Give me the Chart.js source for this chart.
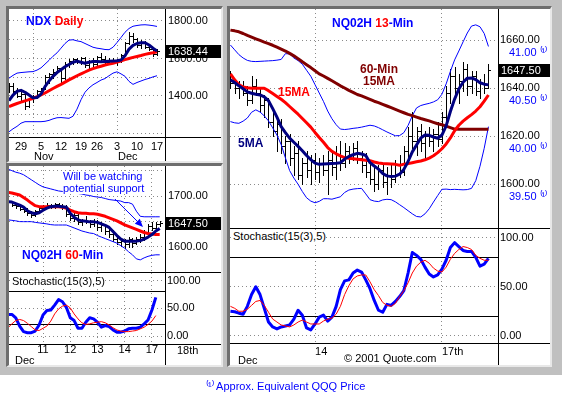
<!DOCTYPE html>
<html>
<head>
<meta charset="utf-8">
<title>NDX Daily / NQ02H</title>
<script src="https://cdn.jsdelivr.net/npm/chart.js@4.4.1/dist/chart.umd.min.js"></script>
<style>
html,body{margin:0;padding:0;width:562px;height:395px;background:#fff;overflow:hidden;font-family:"Liberation Sans",Arial,Helvetica,sans-serif;}
#frame{position:absolute;left:0;top:0;width:562px;height:375px;background:#c0c0c0;}
.panel{position:absolute;background:#fff;border-style:solid;border-width:3px 2px 2px 3px;border-color:#6e6e6e #e8e8e8 #e8e8e8 #6e6e6e;}
canvas{position:absolute;display:block;}
.ln{position:absolute;background:#000;}
.t{position:absolute;white-space:nowrap;font-size:11px;line-height:12px;color:#000;}
.b{font-weight:bold;font-size:12px;line-height:13px;}
.bg{background:#fff;}
.blue{color:#0000ff}.red{color:#ff0000}.dred{color:#800000}.navy{color:#000080}
</style>
</head>
<body>
<div id="frame"></div>
<div class="panel" style="left:6px;top:6px;width:212px;height:152px"></div>
<div class="panel" style="left:6px;top:163px;width:212px;height:199px"></div>
<div class="panel" style="left:227px;top:6px;width:320px;height:356px"></div>

<canvas id="cA" width="212" height="152" style="left:9px;top:9px;width:212px;height:152px"></canvas>
<canvas id="cB1" width="212" height="106" style="left:9px;top:166px;width:212px;height:106px"></canvas>
<canvas id="cB2" width="212" height="92" style="left:9px;top:273px;width:212px;height:92px"></canvas>
<canvas id="cC1" width="320" height="219" style="left:230px;top:9px;width:320px;height:219px"></canvas>
<canvas id="cC2" width="320" height="136" style="left:230px;top:229px;width:320px;height:136px"></canvas>

<div class="ln" style="left:165px;top:9px;width:1px;height:152px"></div>
<div class="ln" style="left:9px;top:137px;width:212px;height:1px"></div>
<div class="ln" style="left:165px;top:166px;width:1px;height:199px"></div>
<div class="ln" style="left:9px;top:272px;width:212px;height:1px"></div>
<div class="ln" style="left:9px;top:344px;width:212px;height:1px"></div>
<div class="ln" style="left:498px;top:9px;width:1px;height:356px"></div>
<div class="ln" style="left:230px;top:228px;width:320px;height:1px"></div>
<div class="ln" style="left:230px;top:343px;width:320px;height:1px"></div>

<div class="t b" style="left:26px;top:15px"><span class="blue">NDX</span> <span class="red">Daily</span></div>
<div class="t" style="left:34px;top:150px">Nov</div>
<div class="t" style="left:118px;top:150px">Dec</div>

<div class="t blue bg" style="left:63px;top:171px;line-height:11.5px">Will be watching<br>potential support</div>
<div class="t b" style="left:22px;top:248px;line-height:14px"><span class="blue">NQ02H</span> <span class="red">60</span><span class="blue">-Min</span></div>
<div class="t bg" style="left:12px;top:275px">Stochastic(15(3),5)</div>
<div class="t" style="left:177px;top:344px">18th</div>
<div class="t" style="left:15px;top:354px">Dec</div>

<div class="t b" style="left:332px;top:16px;line-height:14px"><span class="blue">NQ02H</span> <span class="red">13</span><span class="blue">-Min</span></div>
<div class="t b dred" style="left:349px;top:64px;width:60px;text-align:center;line-height:11.5px">60-Min<br>15MA</div>
<div class="t b red" style="left:278px;top:86px">15MA</div>
<div class="t b navy" style="left:238px;top:137px">5MA</div>
<div class="t bg" style="left:233px;top:230px">Stochastic(15(3),5)</div>
<div class="t" style="left:238px;top:354px">Dec</div>
<div class="t" style="left:344px;top:352px">© 2001 Quote.com</div>

<div class="t blue" style="left:206px;top:380px">⁽¹⁾ Approx. Equivalent QQQ Price</div>

<script>
// ---------------- NDX daily ----------------
const ndxDates = ['10/24','10/25','10/26','10/29','10/30','10/31','11/1','11/2','11/5','11/6','11/7','11/8','11/9',
  '11/12','11/13','11/14','11/15','11/16','11/19','11/20','11/21','11/23','11/26','11/27','11/28','11/29','11/30',
  '12/3','12/4','12/5','12/6','12/7','12/10','12/11','12/12','12/13','12/14','12/17'];
const ndxTickDates = ['10/29','11/5','11/12','11/19','11/26','12/3','12/10','12/17'];
const ndxTickLabels = ['29','5','12','19','26','3','10','17'];
const ndxMonthStarts = ['11/1','12/3'];
const ndxOpen  = [1440,1455,1428,1400,1410,1345,1385,1398,1425,1440,1500,1515,1530,1548,1495,1570,1585,1595,1580,1600,1565,1585,1570,1610,1598,1580,1592,1585,1590,1620,1680,1720,1705,1672,1690,1660,1650,1625];
const ndxHigh  = [1470,1470,1445,1420,1420,1390,1405,1430,1445,1510,1525,1545,1560,1550,1580,1595,1605,1600,1610,1610,1590,1600,1615,1630,1615,1600,1605,1595,1625,1690,1740,1735,1710,1700,1695,1675,1660,1648];
const ndxLow   = [1420,1420,1395,1375,1330,1340,1370,1390,1410,1435,1470,1495,1520,1470,1490,1555,1570,1575,1570,1555,1545,1560,1565,1590,1575,1570,1575,1565,1580,1615,1675,1690,1660,1655,1655,1645,1615,1620];
const ndxClose = [1455,1428,1400,1410,1345,1385,1398,1425,1440,1500,1515,1530,1548,1495,1570,1585,1595,1580,1600,1565,1585,1570,1610,1598,1580,1592,1585,1590,1620,1680,1720,1705,1672,1690,1660,1650,1625,1638.44];
const ndxMa5   = [1375,1405,1425,1430,1420,1405,1390,1392,1410,1450,1480,1505,1525,1540,1556,1568,1580,1586,1580,1575,1580,1584,1584,1583,1584,1585,1586,1588,1592,1615,1650,1670,1680,1684,1684,1672,1655,1640];
const ndxMa15  = [1343,1352,1360,1367,1374,1381,1387,1396,1406,1416,1428,1440,1451,1462,1474,1486,1497,1508,1518,1528,1538,1546,1553,1559,1565,1570,1575,1581,1587,1594,1600,1606,1611,1616,1622,1627,1631,1636];
const ndxUpper = [1495,1510,1522,1525,1527,1529,1530,1538,1550,1570,1590,1612,1630,1655,1680,1698,1700,1694,1690,1680,1670,1660,1655,1652,1648,1647,1660,1685,1712,1740,1760,1772,1776,1779,1780,1778,1775,1771];
const ndxLower = [1209,1225,1238,1255,1263,1263,1263,1263,1263,1265,1270,1278,1284,1285,1283,1281,1292,1330,1380,1420,1443,1460,1472,1485,1493,1508,1522,1529,1518,1505,1478,1462,1472,1480,1488,1494,1502,1508];
const ndxYTicks = [1200,1300,1400,1500,1600,1700,1800];
const ndxYLabels = [1400,1600,1800];

// ---------------- NQ02H 60-min ----------------
const nq60TickBars = [9,16,23,30,37];
const nq60TickLabels = ['11','12','13','14','17'];
const nq60Open  = [1686,1689,1683,1680,1675,1671,1666,1662,1670,1676,1680,1682,1679,1684,1680,1678,1664,1656,1662,1648,1652,1648,1645,1650,1638,1642,1630,1625,1615,1610,1612,1606,1615,1608,1616,1620,1628,1640,1636,1645];
const nq60High  = [1692,1691,1686,1684,1679,1676,1670,1672,1678,1683,1686,1685,1686,1687,1684,1682,1670,1667,1665,1655,1660,1652,1654,1653,1648,1645,1637,1632,1622,1618,1616,1620,1618,1620,1625,1632,1645,1648,1648,1650];
const nq60Low   = [1683,1680,1676,1672,1668,1663,1658,1660,1667,1673,1676,1677,1676,1678,1674,1660,1652,1650,1645,1642,1646,1638,1640,1633,1630,1625,1620,1612,1605,1602,1598,1600,1600,1605,1610,1614,1625,1632,1634,1640];
const nq60Close = [1689,1683,1680,1675,1671,1666,1662,1670,1676,1680,1682,1679,1684,1680,1678,1664,1656,1662,1648,1652,1648,1645,1650,1638,1642,1630,1625,1615,1610,1612,1606,1615,1608,1616,1620,1628,1640,1636,1645,1647.5];
const nq60Ma5   = [1689,1688,1685,1682,1678,1671,1667,1665,1667,1672,1676,1679,1680,1680,1679,1678,1666,1658,1653,1651,1650,1649,1649,1648,1645,1642,1638,1630,1622,1615,1611,1611,1611,1611,1612,1615,1619,1624,1631,1636];
const nq60Ma15  = [1707,1706,1704,1702,1697,1692,1686,1681,1679,1679,1679,1679,1679,1679,1678,1676,1672,1669,1667,1666,1666,1665,1665,1664,1662,1660,1657,1654,1651,1647,1643,1640,1637,1634,1631,1628,1626,1625,1624,1624];
const nq60Upper = [1753,1750,1747,1745,1742,1737,1732,1727,1722,1718,1716,1714,1712,1710,1709,1708,1707,1706,1705,1704,1702,1701,1699,1698,1697,1695,1693,1692,1691,1690,1687,1687,1684,1670,1660,1659,1659,1659,1659,1659];
const nq60Lower = [1653,1652,1651,1649.5,1649.4,1649.4,1649.4,1648,1647,1646,1645,1643.5,1642.8,1642.8,1642.8,1642.8,1640,1637,1634,1631,1629,1627,1626,1622,1619,1616,1613,1610,1607,1602,1597,1590,1584,1576,1574,1578,1581,1583,1584,1584];
const nq60StochK = [39,39,33,18,8,6,6,9,20,38,46,47,56,66,62,52,33,28,14,14,25,33,31,25,16,19,17,11,7,7,9,13,14,14,16,22,29,47,70];
const nq60StochD = [15,22,28,30,28,23,17,11,10,14,18,27,40,49,54,56,51,40,31,24,21,22,24,25,26,24,20,15,11,9,8,8,9,10,13,16,21,27,37];
const nq60YTicks = [1600,1650,1700,1750];
const nq60YLabels = [1600,1700];
const nq60ArrowFrom = [27.5, 1694];
const nq60ArrowTo = [34.7, 1639];

// ---------------- NQ02H 13-min ----------------
const nq13TickBars = [20,50];
const nq13TickLabels = ['14','17th'];
const nq13Open  = [1645,1642,1640,1641,1638,1635,1641,1638,1633,1635,1626,1622,1625,1616,1618,1611,1613,1604,1609,1606,1610,1605,1609,1606,1610,1607,1612,1609,1614,1612,1615,1611,1608,1605,1602,1600,1606,1601,1604,1602,1608,1605,1614,1620,1618,1622,1617,1620,1618,1621,1619,1628,1638,1645,1640,1643,1648,1641,1645,1639,1642,1640];
const nq13High  = [1647,1644,1643,1643,1641,1645,1644,1640,1637,1636,1630,1628,1627,1620,1621,1616,1618,1611,1614,1612,1613,1611,1612,1614,1613,1616,1618,1617,1616,1617,1618,1614,1613,1610,1607,1608,1609,1607,1608,1610,1612,1616,1624,1630,1624,1625,1622,1624,1623,1626,1630,1641,1648,1649,1646,1651,1650,1647,1647,1644,1646,1650];
const nq13Low   = [1640,1638,1636,1637,1633,1634,1637,1630,1628,1624,1620,1614,1613,1609,1608,1604,1602,1600,1603,1600,1602,1601,1604,1596,1604,1602,1606,1607,1609,1610,1609,1605,1603,1600,1597,1598,1599,1596,1599,1601,1603,1604,1611,1615,1612,1614,1610,1616,1614,1616,1617,1625,1634,1636,1634,1639,1637,1638,1637,1636,1638,1640];
const nq13Close = [1642,1640,1641,1638,1635,1641,1638,1633,1635,1626,1622,1625,1616,1618,1611,1613,1604,1609,1606,1610,1605,1609,1606,1610,1607,1612,1609,1614,1612,1615,1611,1608,1605,1602,1600,1606,1601,1604,1602,1608,1605,1614,1620,1618,1622,1617,1620,1618,1621,1619,1628,1638,1645,1640,1643,1648,1641,1645,1639,1642,1640,1647.5];
const nq13Ma5   = [1643.5,1642.4,1641,1639.8,1638.5,1637.9,1637.5,1637.2,1636.4,1634.8,1631.5,1628,1624,1621.5,1619.2,1617.5,1615.8,1614,1612,1610.3,1608.8,1608.3,1608.5,1608.6,1608.7,1608.8,1609,1610.5,1611.6,1612.3,1612.9,1612.6,1612,1609,1607.6,1606.3,1604.5,1603.5,1603.2,1603.4,1604.2,1606.2,1609.5,1613.5,1616.4,1619.3,1620.5,1620.4,1619.7,1619.2,1620.5,1624.3,1630.3,1635.5,1639.7,1642.5,1644.2,1644.3,1643.6,1642.3,1641.7,1641.4];
const nq13Ma15  = [1646,1643.5,1641.5,1640.5,1640.2,1640,1640,1640,1640,1639,1637.8,1636.6,1635.4,1634,1632.4,1630.8,1629.2,1627.4,1625.6,1623.8,1621.6,1619.5,1617.5,1615.3,1613.7,1612.7,1611.8,1611.1,1610.8,1610.6,1610.4,1610.2,1610,1609.8,1609.3,1608.9,1608.7,1608.6,1608.5,1608.3,1607.9,1608.4,1608.6,1609,1609.4,1609.7,1610.2,1610.9,1611.9,1613.2,1614.8,1616.8,1619.3,1622.3,1624.6,1626.3,1627.7,1629,1630.5,1632.3,1634.6,1637.2];
const nq13Ma60h = [1664.2,1663.9,1663.5,1662.8,1662,1661.3,1660.6,1659.9,1659.2,1658.6,1657.9,1657.1,1656.3,1655.5,1654.5,1653.5,1652.3,1651,1649.8,1648.6,1647.3,1646,1645.1,1644.1,1643.1,1642.1,1641,1640.1,1639.1,1638.3,1637.4,1636.8,1636.1,1635.4,1634.6,1634,1633.3,1632.6,1631.9,1631.2,1630.5,1629.8,1629.1,1628.6,1628,1627.4,1626.9,1626.4,1625.8,1625.2,1624.8,1624.2,1623.6,1623,1622.9,1622.9,1622.9,1622.9,1622.9,1622.9,1622.9,1622.9];
const nq13Upper = [1658,1656,1654,1652.6,1651.6,1651.2,1651.1,1651.2,1651.3,1651.4,1651.5,1651.7,1652,1654.4,1654.3,1652.6,1651.5,1650,1647.5,1645,1641.5,1638,1634.5,1630.5,1627.3,1624.8,1623,1622.8,1623,1623.3,1623.5,1623.8,1624.2,1624.6,1624.3,1623.6,1622.7,1621.8,1621,1620.2,1620.3,1621.5,1624.5,1628.5,1631.8,1632.8,1633.3,1633.7,1634.3,1635.2,1637.5,1641.8,1647,1651.8,1655.5,1659.3,1663,1665.9,1666.4,1665.6,1662.8,1657.4];
const nq13Lower = [1626.1,1625.6,1625.4,1626.3,1627.6,1630,1631,1630.1,1628.5,1626.4,1623.5,1620.5,1616.5,1611,1605.7,1602.6,1600,1597,1594.4,1593,1592.3,1592.9,1594,1594,1593.8,1594.3,1594.8,1596.6,1597.6,1598,1598.2,1598.3,1596,1593.6,1593,1592.8,1593.5,1593.75,1593.6,1592.7,1591.5,1590.3,1589,1587.7,1586.6,1586.4,1587.7,1589.8,1592.6,1595.3,1597.9,1598,1597.8,1597.9,1597.8,1597.7,1597.8,1598.3,1601.5,1607.5,1615,1624];
const nq13StochK = [25,24.5,23,22,30,42,50,42,28,14,9,7,9,10,11,17,26,21,8,6,12,19,21,15,19,30,47,56,57,64,67,65,57,48,36,26,24,32,31,35,40,46,64,85,82,78,70,63,60,62,68,77,90,95,91,87,86,86,80,71,73,79];
const nq13StochD = [30,28,25,25,27,31,35,36,31,24,17,14,11,10,9,11,14,16,14,12,12,12,15,17,18,22,30,42,51,58,61,62,62,55,47,41,34,31,30,33,40,46,54,64,71,75,77,74,69,66,65,70,78,84,88,91,90,88,82,79,77,77];
const nq13YTicks = [1600,1620,1640,1660];
const qqqTicks = [39.5,40,40.5,41];
const qqqAnchorNQ = 1654.7, qqqAnchor = 41, nqPerQqq = 40;

const stochTicks = [0,20,50,80,100];
const stochLabels = [0,50,100];
const stochLevels = [20,80];

// ---------------- helpers ----------------
const FONT = '"Liberation Sans", Arial, Helvetica, sans-serif';
Chart.defaults.font.family = FONT;
Chart.defaults.font.size = 11;
Chart.defaults.color = '#000';
const DOT = '#8a8a8a';
const CLEAR = 'rgba(0,0,0,0)';

const pts = (xs, ys) => ys.map((v, i) => ({x: xs[i], y: v}));
const ln = (xs, ys, color, w) => ({data: pts(xs, ys), borderColor: color, borderWidth: w, xAxisID: 'x', yAxisID: 'y',
  pointRadius: 0, tension: 0, fill: false, borderJoinStyle: 'round'});
const noPad = s => { s.paddingTop = 0; s.paddingBottom = 0; s.paddingLeft = 0; s.paddingRight = 0; };

function xAxis(o) {
  const all = Array.from(new Set(o.tickPos.concat(o.gridPos))).sort((a, b) => a - b);
  return {
    type: 'linear', position: 'bottom', min: o.min, max: o.max,
    afterBuildTicks: s => { s.ticks = all.map(v => ({value: v})); },
    afterFit: s => { s.height = o.height; noPad(s); },
    ticks: {display: o.show, autoSkip: false, maxRotation: 0, minRotation: 0, padding: o.pad || 0,
      align: o.align || 'center', font: {size: 11, lineHeight: 1},
      callback: v => { const k = o.tickPos.indexOf(v); return k >= 0 ? o.tickLabels[k] : ''; }},
    grid: {drawTicks: false, lineWidth: 1,
      color: c => (c.tick && o.gridPos.includes(c.tick.value)) ? DOT : CLEAR},
    border: {display: false, dash: [1, 3]}
  };
}
function yAxis(o) {
  const lv = o.levels || [];
  return {
    type: 'linear', position: 'right', min: o.min, max: o.max, weight: 1,
    afterBuildTicks: s => { s.ticks = o.ticks.map(v => ({value: v})); },
    afterFit: s => { s.width = o.width; noPad(s); },
    ticks: {autoSkip: false, padding: o.pad, color: '#000',
      callback: v => o.labels.includes(v) ? v.toFixed(2) : ''},
    grid: {drawTicks: false, lineWidth: 1,
      color: c => (c.tick && lv.includes(c.tick.value)) ? '#000' : DOT},
    border: {display: false, dash: c => (c.tick && lv.includes(c.tick.value)) ? [] : [1, 3]}
  };
}
function ohlc(xs, o, h, l, c) {
  return {id: 'ohlc', beforeDatasetsDraw(chart) {
    const {ctx, chartArea: a} = chart; const X = chart.scales.x, Y = chart.scales.y;
    ctx.save(); ctx.beginPath(); ctx.rect(a.left, a.top, a.right - a.left, a.bottom - a.top); ctx.clip();
    ctx.strokeStyle = '#000'; ctx.lineWidth = 1; ctx.beginPath();
    xs.forEach((xv, i) => {
      const px = Math.round(X.getPixelForValue(xv));
      const yh = Math.round(Y.getPixelForValue(h[i])), yl = Math.round(Y.getPixelForValue(l[i]));
      const yo = Math.round(Y.getPixelForValue(o[i])) + 0.5, yc = Math.round(Y.getPixelForValue(c[i])) + 0.5;
      ctx.moveTo(px + 0.5, yh); ctx.lineTo(px + 0.5, yl + 1);
      ctx.moveTo(px - 2, yo); ctx.lineTo(px, yo);
      ctx.moveTo(px + 1, yc); ctx.lineTo(px + 3, yc);
    });
    ctx.stroke(); ctx.restore();
  }};
}
function axisLabels(scaleId, values, fmt, color, offset) {
  return {id: 'axisLabels', afterDraw(chart) {
    const {ctx, chartArea: a} = chart; const s = chart.scales[scaleId];
    ctx.save(); ctx.fillStyle = color; ctx.font = '11px ' + FONT;
    ctx.textBaseline = 'middle'; ctx.textAlign = 'left';
    values.forEach(v => ctx.fillText(fmt(v), a.right + offset, s.getPixelForValue(v)));
    ctx.restore();
  }};
}
function tag(value) {
  return {id: 'tag', afterDraw(chart) {
    const {ctx, chartArea: a} = chart;
    const y = Math.round(chart.scales.y.getPixelForValue(value));
    ctx.save(); ctx.fillStyle = '#000';
    ctx.fillRect(a.right + 1, y - 6, chart.width - a.right - 1, 13);
    ctx.fillStyle = '#fff'; ctx.font = '11px ' + FONT;
    ctx.textBaseline = 'middle'; ctx.textAlign = 'left';
    ctx.fillText(value.toFixed(2), a.right + 3, y + 1);
    ctx.restore();
  }};
}
function arrow(from, to, color) {
  return {id: 'arrow', afterDatasetsDraw(chart) {
    const {ctx} = chart; const X = chart.scales.x, Y = chart.scales.y;
    const x1 = X.getPixelForValue(from[0]), y1 = Y.getPixelForValue(from[1]);
    const x2 = X.getPixelForValue(to[0]), y2 = Y.getPixelForValue(to[1]);
    const ang = Math.atan2(y2 - y1, x2 - x1), L = 8, W = 3.5, ca = Math.cos(ang), sa = Math.sin(ang);
    ctx.save(); ctx.strokeStyle = color; ctx.fillStyle = color; ctx.lineWidth = 1;
    ctx.beginPath(); ctx.moveTo(x1, y1); ctx.lineTo(x2 - L * ca, y2 - L * sa); ctx.stroke();
    ctx.beginPath(); ctx.moveTo(x2, y2);
    ctx.lineTo(x2 - L * ca + W * sa, y2 - L * sa - W * ca);
    ctx.lineTo(x2 - L * ca - W * sa, y2 - L * sa + W * ca);
    ctx.closePath(); ctx.fill(); ctx.restore();
  }};
}
function make(id, datasets, scales, plugins) {
  return new Chart(document.getElementById(id), {
    type: 'line', data: {datasets},
    options: {responsive: false, animation: false, events: [],
      layout: {padding: 0, autoPadding: false},
      plugins: {legend: {display: false}, tooltip: {enabled: false}},
      scales},
    plugins: plugins || []
  });
}

// ---------------- Chart A: NDX daily ----------------
const ndxX = ndxDates.map((d, i) => i + 1);
const ndxTickPos = ndxTickDates.map(d => ndxDates.indexOf(d) + 1);
const ndxGridPos = ndxMonthStarts.map(d => ndxDates.indexOf(d) + 1);
make('cA', [
  ln(ndxX, ndxMa5, '#000080', 3),
  ln(ndxX, ndxMa15, '#ff0000', 3),
  ln(ndxX, ndxUpper, '#0000ff', 1),
  ln(ndxX, ndxLower, '#0000ff', 1)
], {
  x: xAxis({min: 1, max: 40, tickPos: ndxTickPos, tickLabels: ndxTickLabels, gridPos: ndxGridPos, show: true, height: 24, pad: 4}),
  y: yAxis({min: 1181.3, max: 1864, ticks: ndxYTicks, labels: ndxYLabels, width: 56, pad: 3})
}, [ohlc(ndxX, ndxOpen, ndxHigh, ndxLow, ndxClose), tag(ndxClose[ndxClose.length - 1])]);

// ---------------- Chart B1: NQ02H 60-min ----------------
const nq60X = nq60Close.map((v, i) => i);
make('cB1', [
  ln(nq60X, nq60Ma5, '#000080', 3),
  ln(nq60X, nq60Ma15, '#ff0000', 3),
  ln(nq60X, nq60Upper, '#0000ff', 1),
  ln(nq60X, nq60Lower, '#0000ff', 1)
], {
  x: xAxis({min: 0.26, max: 40.36, tickPos: nq60TickBars, tickLabels: nq60TickLabels, gridPos: nq60TickBars, show: false, height: 0}),
  y: yAxis({min: 1550.1, max: 1759.2, ticks: nq60YTicks, labels: nq60YLabels, width: 56, pad: 3})
}, [ohlc(nq60X, nq60Open, nq60High, nq60Low, nq60Close), arrow(nq60ArrowFrom, nq60ArrowTo, '#0000ff'), tag(nq60Close[nq60Close.length - 1])]);

// ---------------- Chart B2: 60-min stochastic ----------------
make('cB2', [
  ln(nq60X, nq60StochD, '#ff0000', 1),
  ln(nq60X, nq60StochK, '#0000ff', 3)
], {
  x: xAxis({min: 0.26, max: 40.36, tickPos: nq60TickBars, tickLabels: nq60TickLabels, gridPos: nq60TickBars, show: true, height: 21, pad: 0}),
  y: yAxis({min: -14.4, max: 114, ticks: stochTicks, labels: stochLabels, levels: stochLevels, width: 56, pad: 2})
});

// ---------------- Chart C1: NQ02H 13-min ----------------
const nq13X = nq13Close.map((v, i) => i);
const c1Min = 1581.8, c1Max = 1673;
make('cC1', [
  ln(nq13X, nq13Ma5, '#000080', 3),
  ln(nq13X, nq13Ma15, '#ff0000', 3),
  ln(nq13X, nq13Ma60h, '#800000', 3),
  ln(nq13X, nq13Upper, '#0000ff', 1),
  ln(nq13X, nq13Lower, '#0000ff', 1)
], {
  x: xAxis({min: -0.1, max: 63.26, tickPos: nq13TickBars, tickLabels: nq13TickLabels, gridPos: nq13TickBars, show: false, height: 0}),
  y: yAxis({min: c1Min, max: c1Max, ticks: nq13YTicks, labels: nq13YTicks, width: 52, pad: 2}),
  yq: {type: 'linear', position: 'right', display: false, afterFit: s => { s.width = 0; noPad(s); },
    min: qqqAnchor + (c1Min - qqqAnchorNQ) / nqPerQqq, max: qqqAnchor + (c1Max - qqqAnchorNQ) / nqPerQqq}
}, [ohlc(nq13X, nq13Open, nq13High, nq13Low, nq13Close),
    axisLabels('yq', qqqTicks, v => v.toFixed(2) + ' ⁽¹⁾', '#0000ff', 11),
    tag(nq13Close[nq13Close.length - 1])]);

// ---------------- Chart C2: 13-min stochastic ----------------
make('cC2', [
  ln(nq13X, nq13StochD, '#ff0000', 1),
  ln(nq13X, nq13StochK, '#0000ff', 3)
], {
  x: xAxis({min: -0.1, max: 63.26, tickPos: nq13TickBars, tickLabels: nq13TickLabels, gridPos: nq13TickBars, show: true, height: 22, pad: 3, align: 'start'}),
  y: yAxis({min: -7.4, max: 108.9, ticks: stochTicks, labels: stochLabels, levels: stochLevels, width: 52, pad: 2})
});
</script>
</body>
</html>
